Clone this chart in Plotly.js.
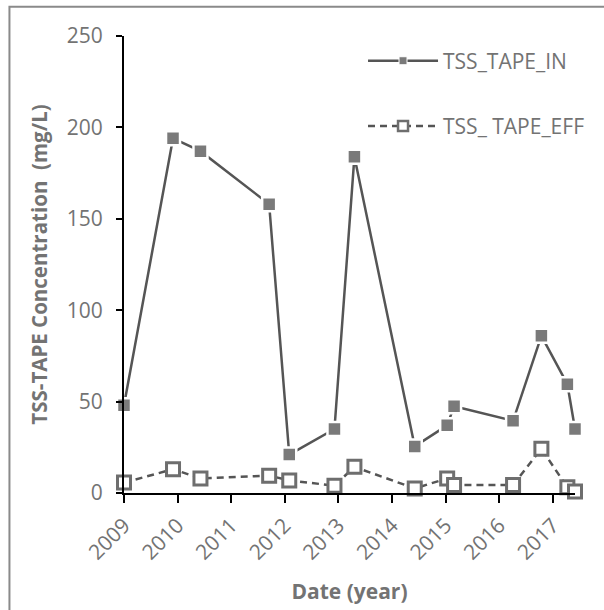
<!DOCTYPE html>
<html>
<head>
<meta charset="utf-8">
<script src="https://cdn.plot.ly/plotly-3.0.1.min.js"></script>
<style>
  html, body { margin: 0; padding: 0; background: #ffffff; }
  #chart { width: 604px; height: 610px; }
</style>
</head>
<body>
<div id="chart"></div>
<script>
// Sampling dates (shared by inflow and effluent samples)
const sampleDates = [
  '2009-01-01', '2009-12-01', '2010-06-06', '2011-09-17', '2012-02-01',
  '2012-12-05', '2013-04-20', '2014-06-05', '2015-01-12', '2015-02-28',
  '2016-04-05', '2016-10-15', '2017-04-10', '2017-06-01'
];

// TSS concentration at the TAPE inlet (mg/L)
const tssIn = [48, 194, 187, 158, 21, 35, 184, 25.5, 37, 47.5, 39.5, 86, 59.5, 35];

// TSS concentration at the TAPE effluent (mg/L)
const tssEff = [5.7, 13, 8, 9.5, 6.9, 4, 14.3, 2.5, 8, 4.4, 4.4, 24.2, 3.1, 0.8];

// Series names shown in the legend
const seriesNames = ['TSS_TAPE_IN', 'TSS_ TAPE_EFF'];

// Axis setup
const yTicks = [0, 50, 100, 150, 200, 250];
const xTickYears = ['2009', '2010', '2011', '2012', '2013', '2014', '2015', '2016', '2017'];

const textGrey = '#737373';
const lineGrey = '#555555';
const markGrey = '#7a7a7a';
const fontFamily = 'Open Sans, Noto Sans, sans-serif';

const inLine = { color: lineGrey, width: 2.5 };
const effLine = { color: lineGrey, width: 2.5, dash: '7px,5px' };

const traces = [
  // inlet series
  {
    x: sampleDates, y: tssIn, name: seriesNames[0],
    type: 'scatter', mode: 'lines+markers', cliponaxis: false, showlegend: false,
    line: inLine,
    marker: { symbol: 'square', size: 14, color: markGrey, line: { color: '#ffffff', width: 2.5 } }
  },
  // effluent series
  {
    x: sampleDates, y: tssEff, name: seriesNames[1],
    type: 'scatter', mode: 'lines+markers', cliponaxis: false, showlegend: false,
    line: effLine,
    marker: { symbol: 'square', size: 13, color: '#ffffff', line: { color: '#6e6e6e', width: 3 } }
  },
  // legend keys with smaller sample markers
  {
    x: [null], y: [null], name: seriesNames[0], legendgroup: 'in',
    type: 'scatter', mode: 'lines+markers',
    line: inLine,
    marker: { symbol: 'square', size: 8, color: markGrey, line: { color: '#ffffff', width: 1 } }
  },
  {
    x: [null], y: [null], name: seriesNames[1], legendgroup: 'eff',
    type: 'scatter', mode: 'lines+markers',
    line: effLine,
    marker: { symbol: 'square', size: 10, color: '#ffffff', line: { color: '#6e6e6e', width: 2.5 } }
  }
];

const layout = {
  width: 604,
  height: 610,
  margin: { l: 124, r: 29, t: 36, b: 117 },
  paper_bgcolor: '#ffffff',
  plot_bgcolor: '#ffffff',
  font: { family: fontFamily, size: 21, color: textGrey },
  showlegend: true,
  legend: {
    x: 0.53, xanchor: 'left',
    y: 0.99, yanchor: 'top',
    bgcolor: 'rgba(0,0,0,0)',
    font: { family: fontFamily, size: 21, color: textGrey },
    traceorder: 'grouped',
    tracegroupgap: 35,
    itemwidth: 70
  },
  xaxis: {
    type: 'date',
    range: [sampleDates[0], sampleDates[sampleDates.length - 1]],
    tickmode: 'array',
    tickvals: xTickYears.map(y => y + '-01-01'),
    ticktext: xTickYears,
    tickangle: -45,
    ticks: 'outside',
    ticklen: 8,
    tickwidth: 2,
    tickcolor: '#000000',
    ticklabelstandoff: 2,
    showline: true,
    linecolor: '#000000',
    linewidth: 2,
    showgrid: false,
    zeroline: false,
    tickfont: { family: fontFamily, size: 21, color: textGrey },
    title: {
      text: 'Date (year)',
      standoff: 20,
      font: { family: fontFamily, size: 21, color: textGrey, weight: 'bold' }
    }
  },
  yaxis: {
    range: [0, 250],
    tickmode: 'array',
    tickvals: yTicks,
    ticktext: yTicks.map(String),
    ticks: 'outside',
    ticklen: 6,
    tickwidth: 2,
    tickcolor: '#000000',
    ticklabelstandoff: 9,
    showline: true,
    linecolor: '#000000',
    linewidth: 2,
    showgrid: false,
    zeroline: false,
    tickfont: { family: fontFamily, size: 21, color: textGrey },
    title: {
      text: 'TSS-TAPE Concentration  (mg/L)',
      standoff: 14,
      font: { family: fontFamily, size: 20.5, color: textGrey, weight: 'bold' }
    }
  },
  shapes: [
    // outer chart frame
    {
      type: 'rect', xref: 'paper', yref: 'paper',
      x0: -0.254, x1: 3, y0: -3, y1: 1.064,
      line: { color: '#8a8a8a', width: 2 },
      fillcolor: 'rgba(0,0,0,0)'
    }
  ]
};

Plotly.newPlot('chart', traces, layout, { staticPlot: true, displayModeBar: false });
</script>
</body>
</html>
